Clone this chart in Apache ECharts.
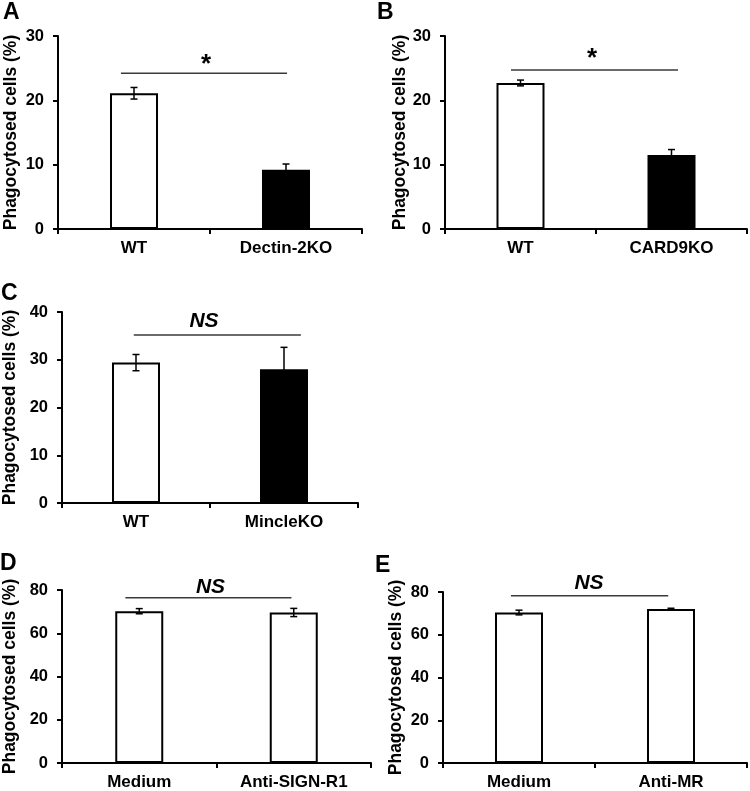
<!DOCTYPE html>
<html>
<head>
<meta charset="utf-8">
<script src="https://cdn.jsdelivr.net/npm/echarts@6/dist/echarts.min.js"></script>
<style>html,body{margin:0;padding:0;background:#fff}#c{width:750px;height:791px}</style>
</head>
<body>
<div id="c"></div>
<script>
// ---- data ----
const catA = ['WT', 'Dectin-2KO'];
const valA = [21.1, 9.2];
const errA = [0.9, 0.9];
const catB = ['WT', 'CARD9KO'];
const valB = [22.7, 11.5];
const errB = [0.45, 0.85];
const catC = ['WT', 'MincleKO'];
const valC = [29.4, 28.0];
const errC = [1.7, 4.6];
const catD = ['Medium', 'Anti-SIGN-R1'];
const valD = [70.2, 69.6];
const errD = [1.2, 1.9];
const catE = ['Medium', 'Anti-MR'];
const valE = [70.4, 72.0];
const errE = [1.1, 0.4];
const barFill = ['#ffffff', '#000000'];
const barFillAll = ['#ffffff', '#ffffff'];
const sigLevel = [24.2, 24.7, 35.2, 76.4, 78.3];
const sigText = ['*', '*', 'NS', 'NS', 'NS'];
const yMax = [30, 30, 40, 80, 80];
const yStep = [10, 10, 10, 20, 20];
const panelLetters = ['A', 'B', 'C', 'D', 'E'];
const yTitle = 'Phagocytosed cells (%)';

// ---- layout (pixels) ----
const FONT = '"Liberation Sans", Arial, Helvetica, sans-serif';
const grids = [
  {left: 58, top: 36, width: 304, height: 193},
  {left: 445, top: 36, width: 302, height: 193},
  {left: 61, top: 312, width: 297, height: 191},
  {left: 61, top: 590, width: 310, height: 173},
  {left: 443, top: 592, width: 304, height: 172}
];
const nameGaps = [38, 33, 43, 43, 38];
const sigSpan = [[-0.086, 0.007], [-0.063, 0.043], [-0.015, 0.114], [-0.09, -0.015], [-0.053, -0.018]];
const sigTextGap = [13, 16, 14, 11, 12];
const letterPos = [[3, 1], [377, 1], [1, 282], [0, 552], [375, 554]];

const panels = [
  {cat: catA, val: valA, err: errA, fill: barFill},
  {cat: catB, val: valB, err: errB, fill: barFill},
  {cat: catC, val: valC, err: errC, fill: barFill},
  {cat: catD, val: valD, err: errD, fill: barFillAll},
  {cat: catE, val: valE, err: errE, fill: barFillAll}
];

const option = {
  animation: false,
  backgroundColor: '#ffffff',
  grid: grids.map(g => Object.assign({containLabel: false}, g)),
  xAxis: [],
  yAxis: [],
  series: [],
  graphic: panelLetters.map((t, i) => ({
    type: 'text', left: letterPos[i][0], top: letterPos[i][1],
    style: {text: t, font: 'bold 23px ' + FONT, fill: '#000'}
  }))
};

panels.forEach((p, i) => {
  option.xAxis.push({
    type: 'category', gridIndex: i, data: p.cat, boundaryGap: true,
    axisLine: {show: true, lineStyle: {color: '#000', width: 2}},
    axisTick: {show: true, alignWithLabel: false, length: 5, lineStyle: {color: '#000', width: 2}},
    axisLabel: {color: '#000', fontWeight: 'bold', fontSize: 17, fontFamily: FONT, margin: 11, interval: 0},
    splitLine: {show: false}
  });
  option.yAxis.push({
    type: 'value', gridIndex: i, min: 0, max: yMax[i], interval: yStep[i],
    name: yTitle, nameLocation: 'middle', nameGap: nameGaps[i],
    nameTextStyle: {color: '#000', fontWeight: 'bold', fontSize: 17.5, fontFamily: FONT},
    axisLine: {show: true, lineStyle: {color: '#000', width: 2}},
    axisTick: {show: true, inside: false, length: 5, lineStyle: {color: '#000', width: 2}},
    axisLabel: {color: '#000', fontWeight: 'bold', fontSize: 16.5, fontFamily: FONT, margin: 14},
    splitLine: {show: false}
  });
  option.series.push({
    type: 'bar', xAxisIndex: i, yAxisIndex: i, barWidth: 48,
    data: p.val.map((v, k) => ({value: v, itemStyle: {color: p.fill[k]}})),
    itemStyle: {borderColor: '#000', borderWidth: 2},
    z: 2
  });
  option.series.push({
    type: 'custom', xAxisIndex: i, yAxisIndex: i, z: 3,
    data: p.val.map((v, k) => [k, v, p.err[k]]),
    renderItem: function (params, api) {
      const x = api.value(0), v = api.value(1), e = api.value(2);
      const top = api.coord([x, v + e]);
      const bot = api.coord([x, v - e]);
      const hw = 3.5;
      const st = {stroke: '#000', lineWidth: 1.5};
      return {type: 'group', children: [
        {type: 'line', shape: {x1: top[0], y1: top[1], x2: bot[0], y2: bot[1]}, style: st},
        {type: 'line', shape: {x1: top[0] - hw, y1: top[1], x2: top[0] + hw, y2: top[1]}, style: st},
        {type: 'line', shape: {x1: bot[0] - hw, y1: bot[1], x2: bot[0] + hw, y2: bot[1]}, style: st}
      ]};
    }
  });
  option.series.push({
    type: 'custom', xAxisIndex: i, yAxisIndex: i, z: 4,
    data: [[0, sigLevel[i], 1]],
    renderItem: function (params, api) {
      const a = api.coord([0, api.value(1)]);
      const b = api.coord([1, api.value(1)]);
      const band = api.size([1, 0])[0];
      const x1 = a[0] + sigSpan[i][0] * band;
      const x2 = b[0] + sigSpan[i][1] * band;
      const isStar = sigText[i] === '*';
      const mid = (a[0] + b[0]) / 2;
      return {type: 'group', children: [
        {type: 'line', shape: {x1: x1, y1: a[1], x2: x2, y2: a[1]}, style: {stroke: '#3a3a3a', lineWidth: 1.5}},
        {type: 'text', x: mid - (isStar ? 4 : 6), y: a[1] - sigTextGap[i] + (isStar ? 5 : 0),
          style: {text: sigText[i], font: (isStar ? 'bold 26px ' : 'italic bold 21px ') + FONT,
            fill: '#000', align: 'center', verticalAlign: 'middle'}}
      ]};
    }
  });
});

const chart = echarts.init(document.getElementById('c'), null, {renderer: 'canvas'});
chart.setOption(option);
</script>
</body>
</html>
